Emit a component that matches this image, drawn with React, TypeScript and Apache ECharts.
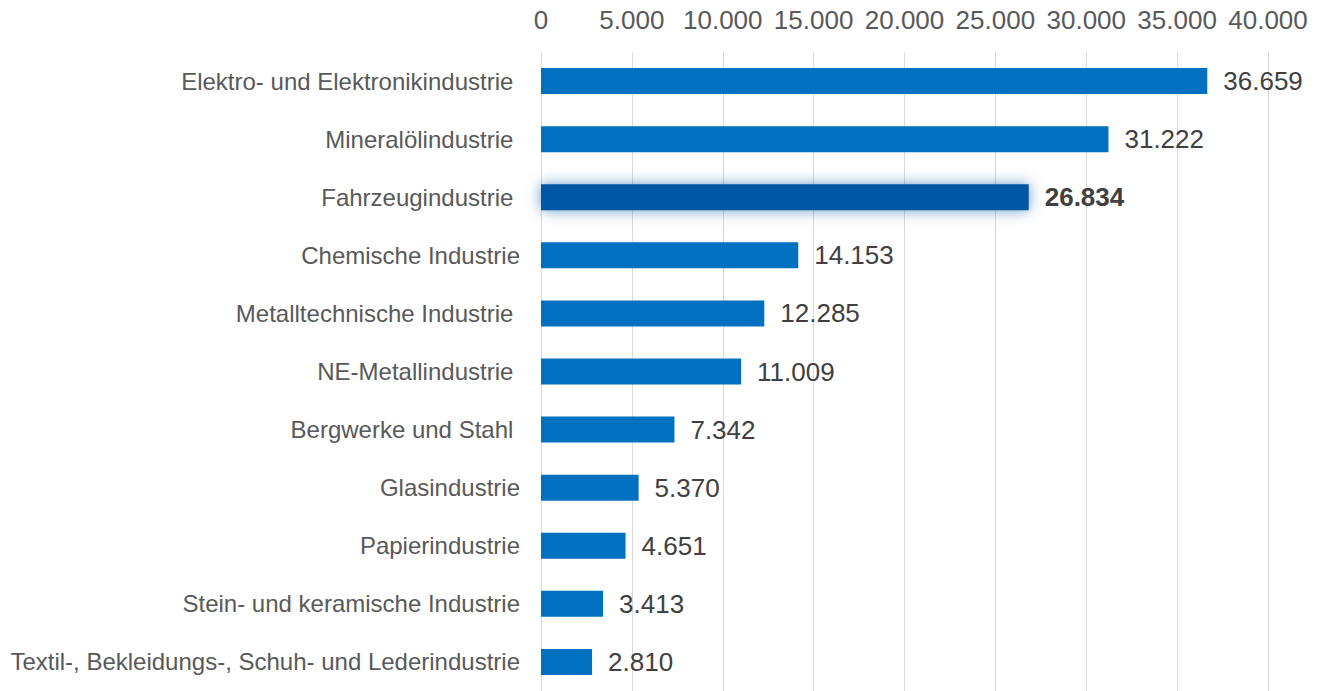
import React, { useEffect, useRef } from "react";
import * as echarts from "echarts";

const categories = [
  "Elektro- und Elektronikindustrie ",
  "Mineralölindustrie ",
  "Fahrzeugindustrie ",
  "Chemische Industrie",
  "Metalltechnische Industrie ",
  "NE-Metallindustrie ",
  "Bergwerke und Stahl ",
  "Glasindustrie",
  "Papierindustrie",
  "Stein- und keramische Industrie",
  "Textil-, Bekleidungs-, Schuh- und Lederindustrie",
];
const values = [36659, 31222, 26834, 14153, 12285, 11009, 7342, 5370, 4651, 3413, 2810];
const highlightIndex = 2;

const fmt = (v: number) => String(v).replace(/\B(?=(\d{3})+(?!\d))/g, ".");

export default function App() {
  const ref = useRef<HTMLDivElement>(null);
  useEffect(() => {
    document.body.style.margin = "0";
    const chart = echarts.init(ref.current!, null, { renderer: "svg" });
    const font = "'Liberation Sans', Arial, sans-serif";
    chart.setOption({
      animation: false,
      backgroundColor: "#ffffff",
      grid: { left: 541, width: 727, top: 52, height: 644, containLabel: false },
      xAxis: {
        type: "value",
        position: "top",
        min: 0,
        max: 40000,
        interval: 5000,
        axisLine: { show: false },
        axisTick: { show: false },
        splitLine: { show: true, lineStyle: { color: "#D9D9D9", width: 1 } },
        axisLabel: {
          color: "#595959",
          fontSize: 26,
          fontFamily: font,
          margin: 19,
          formatter: (v: number) => fmt(v),
        },
      },
      yAxis: {
        type: "category",
        inverse: true,
        data: categories,
        axisLine: { show: false },
        axisTick: { show: false },
        axisLabel: { color: "#595959", fontSize: 24, fontFamily: font, margin: 21 },
      },
      series: [
        {
          type: "bar",
          barWidth: 26,
          data: values.map((v, i) =>
            i === highlightIndex
              ? {
                  value: v,
                  itemStyle: {
                    color: "#0055A5",
                    shadowBlur: 14,
                    shadowColor: "rgba(0,85,165,0.6)",
                  },
                  label: { fontWeight: "bold" },
                }
              : v
          ),
          itemStyle: { color: "#0070C0" },
          label: {
            show: true,
            position: "right",
            distance: 16,
            color: "#404040",
            fontSize: 26,
            fontFamily: font,
            formatter: (p: any) => fmt(p.value),
          },
        },
      ],
    });
    return () => chart.dispose();
  }, []);
  return <div ref={ref} style={{ position: "fixed", left: 0, top: 0, width: 1321, height: 691 }} />;
}
